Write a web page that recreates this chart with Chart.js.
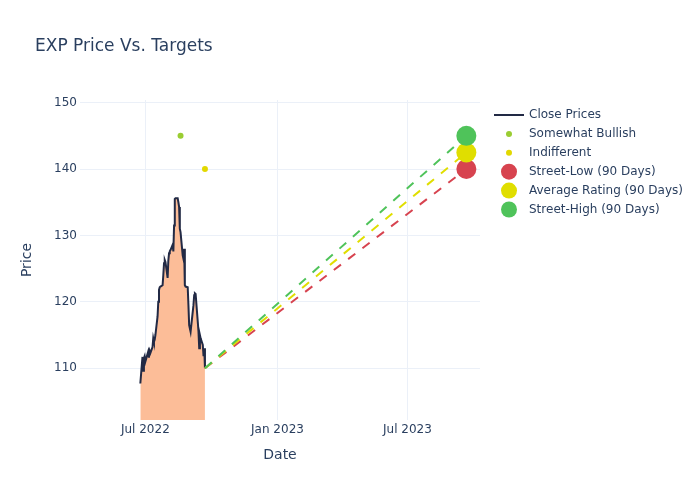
<!DOCTYPE html>
<html><head><meta charset="utf-8">
<script src="https://cdn.jsdelivr.net/npm/chart.js@4.4.0/dist/chart.umd.min.js"></script>
<style>html,body{margin:0;padding:0;background:#fff}#wrap{width:700px;height:500px;position:relative}</style>
</head><body><div id="wrap"><canvas id="c" width="700" height="500"></canvas></div>
<script>
// ---- data ----
const closeDates = ['2022-06-24','2022-06-27','2022-06-28','2022-06-29','2022-06-30','2022-07-01','2022-07-05','2022-07-06','2022-07-07','2022-07-08',
  '2022-07-11','2022-07-12','2022-07-13','2022-07-14','2022-07-15','2022-07-18','2022-07-19','2022-07-20','2022-07-21','2022-07-22',
  '2022-07-25','2022-07-26','2022-07-27','2022-07-28','2022-07-29','2022-08-01','2022-08-02','2022-08-03','2022-08-04','2022-08-05',
  '2022-08-08','2022-08-09','2022-08-10','2022-08-11','2022-08-12','2022-08-15','2022-08-16','2022-08-17','2022-08-18','2022-08-19',
  '2022-08-22','2022-08-23','2022-08-24','2022-08-25','2022-08-26','2022-08-29','2022-08-30','2022-08-31','2022-09-01','2022-09-02',
  '2022-09-06','2022-09-07','2022-09-08','2022-09-09','2022-09-12','2022-09-13','2022-09-14','2022-09-15','2022-09-16','2022-09-19',
  '2022-09-20','2022-09-21','2022-09-22'];
const closePrices = [107.7,111.7,109.6,111.5,111.8,111.0,112.5,111.6,112.6,112.3,
  113.2,114.5,114.0,114.3,115.0,117.8,120.0,121.8,122.2,122.3,
  122.5,124.0,125.8,126.3,126.0,123.6,126.2,127.3,127.6,127.8,
  128.6,127.6,131.5,135.5,135.6,135.6,135.0,134.3,131.0,130.5,
  127.0,126.5,128.0,122.5,122.3,122.2,119.5,116.5,116.0,115.5,
  119.5,121.0,121.3,121.2,117.0,115.5,113.0,115.0,114.5,113.5,
  111.8,113.0,110.0];
const bullishDates = ['2022-08-19'];
const bullishPrices = [145];
const indifferentDates = ['2022-09-22'];
const indifferentPrices = [140];
const targetDates = ['2023-09-21'];
const streetLow = [140];
const avgRating = [142.5];
const streetHigh = [145];
const xTickDates = ['2022-07-01','2023-01-01','2023-07-01'];
const xTickLabels = ['Jul 2022','Jan 2023','Jul 2023'];
const yTicks = [110,120,130,140,150];
const xRange = ['2022-04-01','2023-10-10'];
const yRange = [102.2, 150.4];
const seriesNames = ['Close Prices','Somewhat Bullish','Indifferent','Street-Low (90 Days)','Average Rating (90 Days)','Street-High (90 Days)'];

// ---- helpers ----
const ts = d => Date.parse(d + 'T00:00:00Z');
const FONT = "'DejaVu Sans', sans-serif";
const TXT = '#2a3f5f';
const C = {line:'#222a45', fill:'#fcbd98', bull:'#9acd32', indiff:'#e2d800', low:'#d7434f', avg:'#e0de00', high:'#4fc35a'};

const lastDate = closeDates[closeDates.length-1];
const lastPrice = closePrices[closePrices.length-1];
const closePts = closeDates.map((d,i)=>({x:ts(d), y:closePrices[i]}));
const pts = (ds, vs) => ds.map((d,i)=>({x:ts(d), y:vs[i]}));
const dashLine = (vals) => [{x:ts(lastDate), y:lastPrice}, {x:ts(targetDates[0]), y:vals[0]}];

const overlay = {
  id:'overlay',
  afterDraw(chart){
    const ctx = chart.ctx;
    ctx.save();
    ctx.fillStyle = TXT;
    ctx.font = '17px ' + FONT;
    ctx.textBaseline = 'alphabetic';
    ctx.textAlign = 'left';
    ctx.fillText('EXP Price Vs. Targets', 35, 50.5);
    // legend
    const y0 = 115, step = 18.9;
    ctx.font = '12px ' + FONT;
    ctx.textBaseline = 'middle';
    const marks = [
      {t:'line', c:C.line},
      {t:'dot', c:C.bull, r:3},
      {t:'dot', c:C.indiff, r:3},
      {t:'dot', c:C.low, r:8},
      {t:'dot', c:C.avg, r:8},
      {t:'dot', c:C.high, r:8}
    ];
    marks.forEach((m,i)=>{
      const y = y0 + i*step;
      if (m.t==='line'){
        ctx.strokeStyle = m.c; ctx.lineWidth = 2;
        ctx.beginPath(); ctx.moveTo(494,y); ctx.lineTo(524,y); ctx.stroke();
      } else {
        ctx.fillStyle = m.c;
        ctx.beginPath(); ctx.arc(509,y,m.r,0,Math.PI*2); ctx.fill();
      }
      ctx.fillStyle = TXT;
      ctx.fillText(seriesNames[i], 529, y);
    });
    ctx.restore();
  }
};

new Chart(document.getElementById('c'), {
  type:'scatter',
  data:{ datasets:[
    {label:seriesNames[5], data:pts(targetDates, streetHigh), backgroundColor:C.high, borderColor:C.high, pointRadius:10, pointHoverRadius:10, borderWidth:0, order:1},
    {label:seriesNames[4], data:pts(targetDates, avgRating), backgroundColor:C.avg, borderColor:C.avg, pointRadius:10, pointHoverRadius:10, borderWidth:0, order:2},
    {label:seriesNames[3], data:pts(targetDates, streetLow), backgroundColor:C.low, borderColor:C.low, pointRadius:10, pointHoverRadius:10, borderWidth:0, order:3},
    {label:seriesNames[2], data:pts(indifferentDates, indifferentPrices), backgroundColor:C.indiff, borderColor:C.indiff, pointRadius:3, borderWidth:0, order:4},
    {label:seriesNames[1], data:pts(bullishDates, bullishPrices), backgroundColor:C.bull, borderColor:C.bull, pointRadius:3, borderWidth:0, order:5},
    {label:'High line', data:dashLine(streetHigh), showLine:true, borderColor:C.high, borderWidth:2, borderDash:[9,9], pointRadius:0, fill:false, order:6},
    {label:'Avg line', data:dashLine(avgRating), showLine:true, borderColor:C.avg, borderWidth:2, borderDash:[9,9], pointRadius:0, fill:false, order:7},
    {label:'Low line', data:dashLine(streetLow), showLine:true, borderColor:C.low, borderWidth:2, borderDash:[9,9], pointRadius:0, fill:false, order:8},
    {label:seriesNames[0], data:closePts, showLine:true, borderColor:C.line, borderWidth:2, backgroundColor:C.fill, fill:'start', pointRadius:0, tension:0, order:9}
  ]},
  options:{
    responsive:false, animation:false, devicePixelRatio:1,
    layout:{padding:{top:100,right:220,left:0,bottom:0}},
    plugins:{legend:{display:false}, tooltip:{enabled:false}, title:{display:false}},
    scales:{
      x:{type:'linear', min:ts(xRange[0]), max:ts(xRange[1]),
        afterBuildTicks(s){ s.ticks = xTickDates.map(d=>({value:ts(d)})); },
        afterFit(s){ s.height = 80; },
        ticks:{autoSkip:false, maxRotation:0, padding:3, color:TXT, font:{family:FONT, size:12},
          callback(v){ const i = xTickDates.findIndex(d=>ts(d)===v); return i>=0 ? xTickLabels[i] : ''; }},
        grid:{color:'#ebf0f8', drawTicks:false, lineWidth:1},
        border:{display:false},
        title:{display:true, text:'Date', color:TXT, font:{family:FONT, size:14}, padding:{top:0,bottom:36}}
      },
      y:{type:'linear', min:yRange[0], max:yRange[1],
        afterBuildTicks(s){ s.ticks = yTicks.map(v=>({value:v})); },
        afterFit(s){ s.width = 80; },
        ticks:{padding:3, color:TXT, font:{family:FONT, size:12}},
        grid:{color:'#ebf0f8', drawTicks:false, lineWidth:1},
        border:{display:false},
        title:{display:true, text:'Price', color:TXT, font:{family:FONT, size:14}, padding:{top:19,bottom:0}}
      }
    }
  },
  plugins:[overlay]
});
</script>
</body></html>
